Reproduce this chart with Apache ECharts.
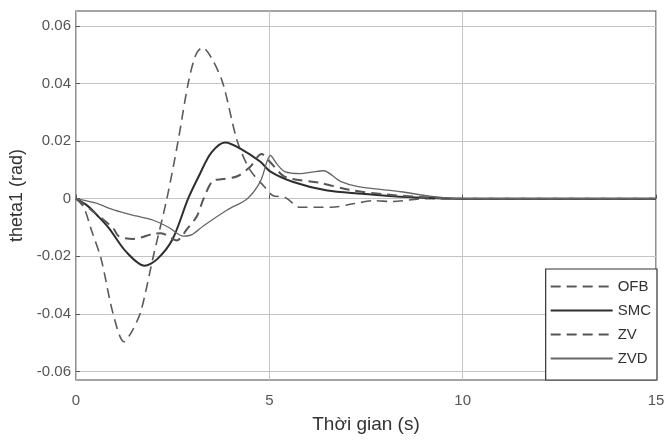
<!DOCTYPE html>
<html>
<head>
<meta charset="utf-8">
<title>theta1</title>
<script src="https://cdn.jsdelivr.net/npm/echarts@6/dist/echarts.min.js"></script>
<style>
  html, body { margin: 0; padding: 0; background: #fff; }
  #chart { width: 667px; height: 443px; }
</style>
</head>
<body>
<div id="chart"></div>
<script>
// time (s) and theta1 (rad)
const ofbT = [0, 0.2, 0.4, 0.65, 0.96, 1.24, 1.45, 1.68, 2.0, 2.35, 2.64, 2.9, 3.1, 3.27, 3.5, 3.8, 4.17, 4.5, 4.85, 5.1, 5.4, 5.8, 6.6, 7.2, 7.7, 8.2, 9, 10, 15];
const ofbV = [0, -0.003, -0.011, -0.021, -0.04, -0.0497, -0.046, -0.039, -0.02, 0, 0.02, 0.04, 0.05, 0.0525, 0.049, 0.04, 0.02, 0.01, 0.0045, 0.001, 0.0005, -0.003, -0.003, -0.0017, -0.0007, -0.001, 0, 0, 0];

const smcT = [0, 0.3, 0.6, 0.86, 1.3, 1.77, 2.1, 2.5, 2.9, 3.2, 3.5, 3.86, 4.25, 4.77, 5.03, 5.6, 6.5, 7.4, 8.2, 9, 10, 15];
const smcV = [0, -0.0025, -0.0065, -0.0104, -0.0185, -0.0233, -0.021, -0.014, 0, 0.0085, 0.016, 0.0195, 0.0174, 0.0128, 0.0094, 0.0059, 0.0028, 0.0017, 0.0008, 0.0003, 0, 0];

const zvT = [0, 0.4, 0.97, 1.1, 1.48, 2.0, 2.2, 2.6, 2.88, 3.13, 3.3, 3.55, 3.8, 4.17, 4.5, 4.8, 5.0, 5.35, 5.6, 6.3, 7.1, 8.0, 9, 10, 15];
const zvV = [0, -0.004, -0.0104, -0.013, -0.014, -0.0122, -0.012, -0.0145, -0.0104, -0.006, 0, 0.0063, 0.0068, 0.0078, 0.011, 0.0155, 0.013, 0.008, 0.0068, 0.0055, 0.003, 0.0015, 0.0005, 0, 0];

const zvdT = [0, 0.5, 1.0, 1.55, 2.0, 2.4, 2.77, 3.0, 3.3, 3.9, 4.43, 4.77, 5.03, 5.2, 5.4, 5.8, 6.1, 6.4, 6.84, 7.3, 8.4, 9.2, 10, 15];
const zvdV = [0, -0.0015, -0.004, -0.006, -0.0075, -0.010, -0.013, -0.0125, -0.0094, -0.004, 0, 0.006, 0.015, 0.012, 0.0094, 0.0087, 0.0092, 0.0097, 0.006, 0.0042, 0.0024, 0.0008, 0, 0];

const yTicks = [-0.06, -0.04, -0.02, 0, 0.02, 0.04, 0.06];
const seriesNames = ['OFB', 'SMC', 'ZV', 'ZVD'];

const pairs = (ts, vs) => ts.map((t, i) => [t, vs[i]]);

const font = '"Liberation Sans", Arial, sans-serif';
const chart = echarts.init(document.getElementById('chart'));

chart.setOption({
    animation: false,
    backgroundColor: '#fff',
    grid: {
        left: 76, right: 11, top: 11, bottom: 63,
        show: true, borderColor: '#4a4a4a', borderWidth: 1.2,
        outerBoundsMode: 'none'
    },
    legend: {
        data: seriesNames,
        orient: 'vertical',
        right: 10,
        bottom: 63,
        itemWidth: 62,
        itemHeight: 14,
        itemGap: 9,
        padding: [10, 6, 14, 4],
        backgroundColor: '#fff',
        borderColor: '#333',
        borderWidth: 1.2,
        borderRadius: 0,
        itemStyle: { opacity: 0 },
        textStyle: { fontFamily: font, fontSize: 15, color: '#333' }
    },
    xAxis: {
        type: 'value',
        min: 0, max: 15, interval: 5,
        name: 'Thời gian (s)',
        nameLocation: 'middle',
        nameGap: 35,
        nameTextStyle: { fontFamily: font, fontSize: 19, color: '#333' },
        axisLine: { show: false },
        axisTick: { show: true, inside: true, length: 4, lineStyle: { color: '#555' } },
        axisLabel: { fontFamily: font, fontSize: 15, color: '#555', margin: 13 },
        splitLine: { show: true, lineStyle: { color: '#c4c4c4', width: 1 } }
    },
    yAxis: {
        type: 'value',
        min: -0.063, max: 0.0652,
        name: 'theta1 (rad)',
        nameLocation: 'middle',
        nameGap: 43,
        nameTextStyle: { fontFamily: font, fontSize: 18, color: '#333' },
        axisLine: { show: false },
        axisTick: { show: true, inside: true, length: 4, customValues: yTicks, lineStyle: { color: '#555' } },
        axisLabel: {
            fontFamily: font, fontSize: 15, color: '#555', margin: 5,
            customValues: yTicks,
            formatter: v => (Math.abs(v) < 1e-9 ? '0' : v.toFixed(2))
        },
        splitLine: { show: true, lineStyle: { color: '#c4c4c4', width: 1 } }
    },
    series: [
        {
            name: 'OFB', type: 'line', showSymbol: false, symbol: 'none', smooth: 0.3,
            data: pairs(ofbT, ofbV),
            lineStyle: { color: '#5a5a5a', width: 1.6, type: [10, 6] },
            itemStyle: { color: '#5a5a5a' }
        },
        {
            name: 'SMC', type: 'line', showSymbol: false, symbol: 'none', smooth: 0.3,
            data: pairs(smcT, smcV),
            lineStyle: { color: '#2e2e2e', width: 2 },
            itemStyle: { color: '#2e2e2e' }
        },
        {
            name: 'ZV', type: 'line', showSymbol: false, symbol: 'none', smooth: 0.3,
            data: pairs(zvT, zvV),
            lineStyle: { color: '#555', width: 2, type: [10, 6] },
            itemStyle: { color: '#555' }
        },
        {
            name: 'ZVD', type: 'line', showSymbol: false, symbol: 'none', smooth: 0.3,
            data: pairs(zvdT, zvdV),
            lineStyle: { color: '#666', width: 1.3 },
            itemStyle: { color: '#666' }
        }
    ]
});
</script>
</body>
</html>
